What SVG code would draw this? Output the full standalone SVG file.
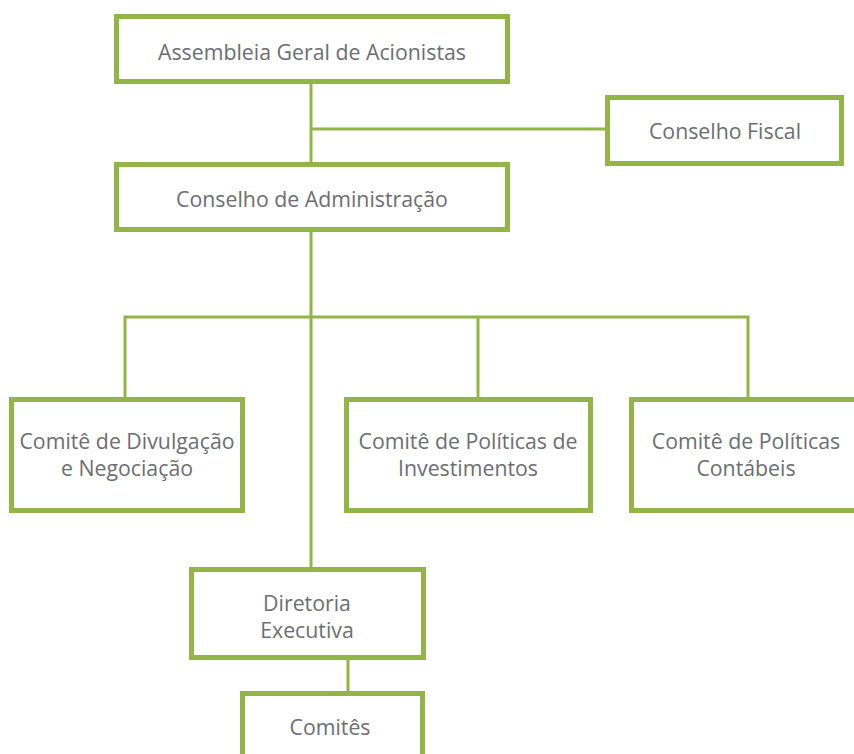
<svg xmlns="http://www.w3.org/2000/svg" width="854" height="754" viewBox="0 0 854 754">
<style>
.box{fill:#fff;stroke:#93b447;stroke-width:5}
.ln{stroke:#93b447;stroke-width:3;fill:none}
text{font-family:"Open Sans","Liberation Sans",sans-serif;font-size:21.3px;fill:#6d6e71;text-anchor:middle}
</style>
<rect width="854" height="754" fill="#fff"/>
<g id="connectors">
<line class="ln" x1="311" y1="84" x2="311" y2="162"/>
<line class="ln" x1="311" y1="129" x2="605" y2="129"/>
<line class="ln" x1="311" y1="232" x2="311" y2="567"/>
<polyline class="ln" points="125,397 125,317 748,317 748,397"/>
<line class="ln" x1="478" y1="317" x2="478" y2="397"/>
<line class="ln" x1="348" y1="660" x2="348" y2="691"/>
</g>
<g id="assembleia"><rect class="box" x="116.5" y="16.5" width="391" height="65"/><text x="312" y="60">Assembleia Geral de Acionistas</text></g>
<g id="fiscal"><rect class="box" x="607.5" y="97.5" width="234" height="66"/><text x="725" y="139">Conselho Fiscal</text></g>
<g id="administracao"><rect class="box" x="116.5" y="164.5" width="391" height="65"/><text x="312" y="207">Conselho de Administração</text></g>
<g id="divulgacao"><rect class="box" x="11.5" y="399.5" width="231" height="111"/><text x="127" y="449">Comitê de Divulgação</text><text x="127" y="476">e Negociação</text></g>
<g id="investimentos"><rect class="box" x="346.5" y="399.5" width="244" height="111"/><text x="468" y="449">Comitê de Políticas de</text><text x="468" y="476">Investimentos</text></g>
<g id="contabeis"><rect class="box" x="631.5" y="399.5" width="230" height="111"/><text x="746" y="449">Comitê de Políticas</text><text x="746" y="476">Contábeis</text></g>
<g id="diretoria"><rect class="box" x="191.5" y="569.5" width="232" height="88"/><text x="307" y="611">Diretoria</text><text x="307" y="638">Executiva</text></g>
<g id="comites"><rect class="box" x="242.5" y="693.5" width="180" height="80"/><text x="330" y="735">Comitês</text></g>
</svg>
